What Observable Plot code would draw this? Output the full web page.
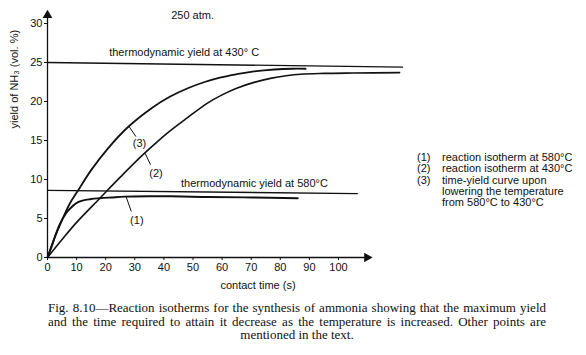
<!DOCTYPE html>
<html>
<head>
<meta charset="utf-8">
<script src="https://cdn.jsdelivr.net/npm/d3@7"></script>
<script src="https://cdn.jsdelivr.net/npm/@observablehq/plot@0.6"></script>
<style>
  html, body { margin: 0; padding: 0; background: #fff; }
  #wrap { position: relative; width: 586px; height: 355px; overflow: hidden; background: #fff; }
  #chart { position: absolute; left: 0; top: 0; }
  #legend { position: absolute; left: 417px; top: 152px; font: 11px "Liberation Sans", Arial, sans-serif; line-height: 11.3px; color: #111; }
  #legend .row { display: flex; white-space: nowrap; }
  #legend .num { width: 25px; }
  #caption { position: absolute; left: 48px; top: 301px; width: 498px; font: 13px "Liberation Serif", "Times New Roman", serif; line-height: 13.5px; color: #111; text-align: justify; text-align-last: center; }
</style>
</head>
<body>
<div id="wrap">
  <div id="chart"></div>
  <div id="legend"></div>
  <div id="caption"></div>
</div>
<script>
// ---- data ----
const xTicks = [0, 10, 20, 30, 40, 50, 60, 70, 80, 90, 100];
const yTicks = [0, 5, 10, 15, 20, 25, 30];

// (1) reaction isotherm at 580°C
const t1 = [0, 1.4, 2.5, 3.7, 4.8, 7.1, 10.5, 15, 17.9, 22, 26.5, 35, 42.5, 55, 70, 86];
const v1 = [0, 1.4, 2.6, 3.8, 4.7, 6.0, 7.1, 7.5, 7.6, 7.7, 7.8, 7.85, 7.85, 7.75, 7.7, 7.6];
// (2) reaction isotherm at 430°C
const t2 = [0, 5, 10, 18, 25, 32, 37, 42, 48, 55, 60, 65, 71, 77, 82, 87, 95, 105, 121];
const v2 = [0, 2.3, 4.5, 7.6, 10.3, 12.9, 14.6, 16.2, 17.9, 19.8, 20.85, 21.7, 22.45, 23.0, 23.3, 23.5, 23.6, 23.65, 23.7];
// (3) time-yield curve upon lowering the temperature
const t3 = [0, 2.5, 5, 7.5, 10.5, 15, 20.8, 27.6, 36, 42, 48.2, 54, 59.6, 65, 71, 78, 84, 88.7];
const v3 = [0, 2.6, 4.8, 6.8, 8.6, 11.2, 14.0, 16.7, 19.2, 20.6, 21.7, 22.5, 23.1, 23.5, 23.85, 24.1, 24.2, 24.2];

// thermodynamic yields
const thermo430T = [0, 122], thermo430V = [25, 24.4];
const thermo580T = [0, 106.5], thermo580V = [8.6, 8.2];

// curve labels and leaders
const curveLabels = ["(1)", "(2)", "(3)"];
const labelT = [30.7, 37.3, 31.6];
const labelV = [4.8, 10.8, 14.6];
const leaderT1 = [27, 33.5, 28.0], leaderV1 = [7.8, 13.4, 16.8];
const leaderT2 = [28.8, 35.4, 30.4], leaderV2 = [5.9, 11.9, 15.5];

// text annotations
const annT = [21.2, 45.9, 42.5];
const annV = [26.3, 9.5, 31.0];
const annText = ["thermodynamic yield at 430° C", "thermodynamic yield at 580°C", "250 atm."];

const yTitle = "yield of NH₃ (vol. %)";
const xTitle = "contact time (s)";
const axisXEnd = 111, axisYEnd = 31.4;

const legendNums = ["(1)", "(2)", "(3)", "", ""];
const legendTexts = ["reaction isotherm at 580°C", "reaction isotherm at 430°C", "time-yield curve upon", "lowering the temperature", "from 580°C to 430°C"];
const captionText = "Fig. 8.10—Reaction isotherms for the synthesis of ammonia showing that the maximum yield and the time required to attain it decrease as the temperature is increased. Other points are mentioned in the text.";

// ---- tables ----
const toRows = (ts, vs) => ts.map((t, i) => ({t, v: vs[i]}));
const c1 = toRows(t1, v1), c2 = toRows(t2, v2), c3 = toRows(t3, v3);
const th430 = toRows(thermo430T, thermo430V), th580 = toRows(thermo580T, thermo580V);
const labels = curveLabels.map((s, i) => ({s, t: labelT[i], v: labelV[i]}));
const leaders = curveLabels.map((s, i) => ({x1: leaderT1[i], y1: leaderV1[i], x2: leaderT2[i], y2: leaderV2[i]}));
const anns = annText.map((s, i) => ({s, t: annT[i], v: annV[i]}));

const plot = Plot.plot({
  width: 586,
  height: 295,
  marginLeft: 47,
  marginRight: 184,
  marginTop: 23,
  marginBottom: 38,
  style: {fontFamily: "Liberation Sans, Arial, sans-serif", fontSize: "11px", color: "#111", background: "white", overflow: "visible"},
  x: {domain: [0, 122], ticks: xTicks, tickSize: 3, tickPadding: 3, tickFormat: d => String(d), label: null},
  y: {domain: [0, 30], ticks: yTicks, tickSize: 3, tickPadding: 2, tickFormat: d => String(d), label: null},
  marks: [
    Plot.link([{x1: 0, y1: 0, x2: axisXEnd, y2: 0}], {x1: "x1", y1: "y1", x2: "x2", y2: "y2", stroke: "#111", strokeWidth: 1.3}),
    Plot.link([{x1: 0, y1: 0, x2: 0, y2: axisYEnd}], {x1: "x1", y1: "y1", x2: "x2", y2: "y2", stroke: "#111", strokeWidth: 1.3}),
    Plot.dot([{t: 0, v: axisYEnd - 0.35}], {x: "t", y: "v", symbol: "triangle", r: 3.6, fill: "#111", stroke: null}),
    Plot.dot([{t: axisXEnd - 1.2, v: 0}], {x: "t", y: "v", symbol: "triangle", r: 3.6, fill: "#111", stroke: null, rotate: 90}),
    Plot.line(th430, {x: "t", y: "v", stroke: "#111", strokeWidth: 1.3}),
    Plot.line(th580, {x: "t", y: "v", stroke: "#111", strokeWidth: 1.3}),
    Plot.line(c1, {x: "t", y: "v", stroke: "#111", strokeWidth: 1.9, curve: "catmull-rom"}),
    Plot.line(c2, {x: "t", y: "v", stroke: "#111", strokeWidth: 1.6, curve: "catmull-rom"}),
    Plot.line(c3, {x: "t", y: "v", stroke: "#111", strokeWidth: 1.8, curve: "catmull-rom"}),
    Plot.link(leaders, {x1: "x1", y1: "y1", x2: "x2", y2: "y2", stroke: "#111", strokeWidth: 1}),
    Plot.text(labels, {x: "t", y: "v", text: "s", fill: "#111", fontSize: 11}),
    Plot.text(anns, {x: "t", y: "v", text: "s", fill: "#111", fontSize: 11, textAnchor: "start"}),
    Plot.text([yTitle], {frameAnchor: "left", dx: -33, dy: -12, rotate: -90, fill: "#111", fontSize: 11}),
    Plot.text([xTitle], {frameAnchor: "bottom", dx: 33, dy: 31, fill: "#111", fontSize: 11})
  ]
});
document.getElementById("chart").appendChild(plot);

const legend = document.getElementById("legend");
legendTexts.forEach((txt, i) => {
  const row = document.createElement("div");
  row.className = "row";
  const n = document.createElement("span"); n.className = "num"; n.textContent = legendNums[i];
  const s = document.createElement("span"); s.textContent = txt;
  row.appendChild(n); row.appendChild(s);
  legend.appendChild(row);
});
document.getElementById("caption").textContent = captionText;
</script>
</body>
</html>
